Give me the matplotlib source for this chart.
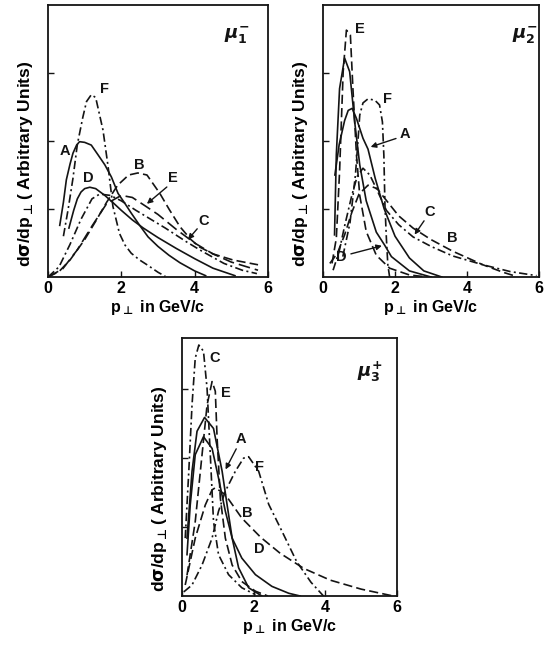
import matplotlib
matplotlib.use("Agg")
import matplotlib.pyplot as plt

plt.rcParams['font.family'] = ['Liberation Sans', 'DejaVu Sans']
plt.rcParams['font.weight'] = 'bold'
plt.rcParams['mathtext.fontset'] = 'dejavusans'
plt.rcParams['mathtext.default'] = 'rm'

INK = '#141414'

# ---- panel 1 : mu_1^- ----
p1_A_x = [0.32, 0.42, 0.5, 0.6, 0.68, 0.78, 0.86, 1.0, 1.18, 1.36, 1.55, 1.73, 1.91, 2.1, 2.27, 2.5, 2.73, 3.0, 3.3, 3.6, 4.0, 4.3]
p1_A_y = [0.76, 1.1, 1.43, 1.66, 1.82, 1.94, 1.99, 1.98, 1.94, 1.8, 1.65, 1.47, 1.23, 1.08, 0.94, 0.76, 0.59, 0.45, 0.32, 0.21, 0.09, 0.02]
p1_D_x = [0.57, 0.7, 0.8, 0.9, 1.0, 1.14, 1.3, 1.55, 1.8, 2.0, 2.3, 2.6, 3.0, 3.5, 4.0, 4.5, 5.1]
p1_D_y = [0.72, 0.98, 1.15, 1.25, 1.3, 1.32, 1.3, 1.2, 1.08, 0.98, 0.84, 0.72, 0.58, 0.42, 0.27, 0.13, 0.02]
p1_F_x = [0.42, 0.55, 0.68, 0.8, 0.95, 1.05, 1.18, 1.3, 1.4, 1.5, 1.64, 1.77, 1.95, 2.1, 2.27, 2.5, 2.73, 3.0, 3.2]
p1_F_y = [0.6, 1.0, 1.45, 1.95, 2.35, 2.58, 2.68, 2.64, 2.4, 2.16, 1.62, 1.04, 0.64, 0.47, 0.35, 0.25, 0.17, 0.07, 0.01]
p1_B_x = [0.0, 0.3, 0.6, 1.0, 1.3, 1.6, 1.9, 2.2, 2.45, 2.7, 3.05, 3.3, 3.6, 3.9, 4.14, 4.5, 5.05, 5.73]
p1_B_y = [0.0, 0.08, 0.25, 0.55, 0.82, 1.1, 1.35, 1.5, 1.53, 1.5, 1.23, 1.0, 0.74, 0.55, 0.44, 0.34, 0.25, 0.18]
p1_E_x = [0.0, 0.4, 0.8, 1.2, 1.6, 2.0, 2.3, 2.64, 3.0, 3.5, 4.0, 4.5, 5.0, 5.73]
p1_E_y = [0.0, 0.12, 0.4, 0.75, 1.08, 1.2, 1.17, 1.05, 0.92, 0.7, 0.5, 0.34, 0.22, 0.1]
p1_C_x = [0.0, 0.3, 0.6, 0.9, 1.2, 1.41, 1.7, 2.0, 2.4, 2.8, 3.2, 3.77, 4.2, 4.8, 5.3, 5.7]
p1_C_y = [0.0, 0.15, 0.48, 0.85, 1.15, 1.22, 1.2, 1.12, 0.98, 0.85, 0.72, 0.52, 0.38, 0.2, 0.1, 0.05]

# ---- panel 2 : mu_2^- ----
p2_E_x = [0.25, 0.37, 0.46, 0.56, 0.65, 0.76, 0.83, 0.93, 1.02, 1.2, 1.48, 1.85, 2.4, 2.9]
p2_E_y = [0.2, 0.57, 1.55, 3.02, 3.63, 3.56, 2.78, 1.79, 1.2, 0.67, 0.32, 0.13, 0.03, 0.0]
p2_D_x = [0.32, 0.37, 0.46, 0.6, 0.74, 0.88, 1.02, 1.2, 1.48, 1.71, 1.9, 2.4, 3.0]
p2_D_y = [0.62, 1.8, 2.77, 3.22, 3.02, 2.28, 1.65, 1.12, 0.66, 0.47, 0.3, 0.09, 0.0]
p2_A_x = [0.33, 0.45, 0.6, 0.7, 0.81, 0.93, 1.11, 1.25, 1.45, 1.7, 2.0, 2.4, 2.8, 3.3]
p2_A_y = [1.5, 1.95, 2.3, 2.45, 2.48, 2.33, 2.04, 1.88, 1.45, 1.0, 0.6, 0.28, 0.09, 0.0]
p2_F_x = [0.55, 0.75, 0.9, 0.97, 1.02, 1.11, 1.25, 1.44, 1.57, 1.65, 1.69, 1.72, 1.76, 1.8, 1.85]
p2_F_y = [0.3, 0.8, 1.5, 1.99, 2.38, 2.56, 2.62, 2.6, 2.53, 2.28, 1.79, 1.06, 0.57, 0.18, 0.0]
p2_C_x = [0.28, 0.45, 0.6, 0.8, 0.95, 1.11, 1.3, 1.5, 1.76, 2.1, 2.5, 3.0, 3.6, 4.44, 5.2, 5.93]
p2_C_y = [0.1, 0.38, 0.75, 1.2, 1.48, 1.6, 1.5, 1.28, 0.98, 0.77, 0.59, 0.45, 0.31, 0.18, 0.08, 0.02]
p2_B_x = [0.19, 0.4, 0.6, 0.8, 1.0, 1.25, 1.5, 1.8, 2.1, 2.5, 3.0, 3.6, 4.44, 5.0, 5.3]
p2_B_y = [0.2, 0.35, 0.62, 0.95, 1.22, 1.35, 1.3, 1.1, 0.9, 0.72, 0.55, 0.38, 0.18, 0.07, 0.02]

# ---- panel 3 : mu_3^+ ----
p3_C_x = [0.09, 0.19, 0.28, 0.37, 0.47, 0.6, 0.7, 0.79, 0.88, 1.02, 1.3, 1.67, 2.05]
p3_C_y = [0.84, 1.81, 2.77, 3.45, 3.64, 3.55, 3.01, 2.05, 1.08, 0.6, 0.31, 0.12, 0.02]
p3_E_x = [0.14, 0.37, 0.56, 0.7, 0.84, 0.93, 0.98, 1.07, 1.21, 1.4, 1.67, 2.05, 2.4]
p3_E_y = [0.3, 1.08, 2.05, 2.77, 3.11, 2.97, 2.29, 1.42, 0.84, 0.45, 0.21, 0.07, 0.0]
p3_A_x = [0.14, 0.28, 0.42, 0.63, 0.88, 1.12, 1.26, 1.4, 1.58, 1.86, 2.23]
p3_A_y = [0.84, 1.81, 2.39, 2.59, 2.43, 1.81, 1.32, 0.84, 0.41, 0.12, 0.0]
p3_D_x = [0.14, 0.23, 0.37, 0.6, 0.84, 1.02, 1.21, 1.4, 1.67, 2.05, 2.51, 2.98, 3.3]
p3_D_y = [0.6, 1.32, 2.05, 2.31, 2.14, 1.71, 1.23, 0.84, 0.55, 0.31, 0.14, 0.04, 0.0]
p3_B_x = [0.09, 0.37, 0.65, 0.84, 0.93, 1.21, 1.67, 2.2, 2.74, 3.4, 4.14, 5.0, 5.9]
p3_B_y = [0.16, 0.84, 1.32, 1.54, 1.57, 1.47, 1.13, 0.85, 0.62, 0.4, 0.23, 0.1, 0.0]
p3_F_x = [0.05, 0.28, 0.56, 0.84, 1.02, 1.21, 1.49, 1.72, 1.86, 2.14, 2.42, 2.79, 3.2, 3.6, 3.95]
p3_F_y = [0.06, 0.16, 0.45, 0.84, 1.23, 1.52, 1.81, 2.0, 2.02, 1.81, 1.33, 0.94, 0.5, 0.2, 0.0]

xticks = [0, 2, 4, 6]
yticks = [1, 2, 3]

SOLID = '-'
DASH = (0, (5.5, 2.5))
LDASH = (0, (7, 3))
DASHDOT = (0, (5, 2, 1.2, 2))

fig = plt.figure(figsize=(5.47, 6.48), dpi=100)


def make_axes(rect, ytop):
    ax = fig.add_axes(rect)
    ax.set_xlim(0, 6)
    ax.set_ylim(0, ytop)
    ax.set_xticks(xticks)
    ax.set_xticklabels([str(t) for t in xticks], fontsize=11.5, fontweight='bold')
    ax.set_yticks(yticks)
    ax.set_yticklabels([])
    ax.tick_params(direction='in', length=4, width=1.0, pad=3, color=INK)
    for s in ax.spines.values():
        s.set_linewidth(1.3)
        s.set_color(INK)
    ax.set_xlabel(r'p$_{\bot}$ in GeV/c', fontsize=11.5, fontweight='bold', labelpad=1)
    ax.set_ylabel(r'd$\sigma$/dp$_{\bot}$( Arbitrary Units)', fontsize=12.5, fontweight='bold')
    ax.yaxis.set_label_coords(-0.06, 0.415)
    return ax


def curve(ax, xs, ys, ls):
    ax.plot(xs, ys, color=INK, lw=1.2, linestyle=ls)


def tag(ax, s, x, y, tip=None, start=None):
    ax.text(x, y, s, fontsize=10.5, fontweight='bold', ha='center', va='center', color=INK)
    if tip is not None:
        ax.annotate('', xy=tip, xytext=start,
                    arrowprops=dict(arrowstyle='-|>', color=INK, lw=1.0, mutation_scale=8))


# panel 1
ax1 = make_axes([0.0878, 0.5725, 0.402, 0.4198], 4.0)
curve(ax1, p1_A_x, p1_A_y, SOLID)
curve(ax1, p1_D_x, p1_D_y, SOLID)
curve(ax1, p1_F_x, p1_F_y, DASHDOT)
curve(ax1, p1_B_x, p1_B_y, DASH)
curve(ax1, p1_E_x, p1_E_y, LDASH)
curve(ax1, p1_C_x, p1_C_y, DASHDOT)
tag(ax1, 'A', 0.45, 1.85)
tag(ax1, 'F', 1.55, 2.76)
tag(ax1, 'B', 2.5, 1.65)
tag(ax1, 'D', 1.09, 1.45)
tag(ax1, 'E', 3.42, 1.45, tip=(2.64, 1.05), start=(3.3, 1.35))
tag(ax1, 'C', 4.25, 0.82, tip=(3.77, 0.52), start=(4.12, 0.74))
ax1.text(5.15, 3.55, r'$\mathit{\mu}_{1}^{-}$', fontsize=13, ha='center', va='center', color=INK)

# panel 2
ax2 = make_axes([0.5905, 0.5725, 0.395, 0.4198], 4.0)
curve(ax2, p2_E_x, p2_E_y, DASH)
curve(ax2, p2_D_x, p2_D_y, SOLID)
curve(ax2, p2_A_x, p2_A_y, SOLID)
curve(ax2, p2_F_x, p2_F_y, DASHDOT)
curve(ax2, p2_C_x, p2_C_y, DASHDOT)
curve(ax2, p2_B_x, p2_B_y, DASH)
tag(ax2, 'E', 1.02, 3.65)
tag(ax2, 'F', 1.78, 2.62)
tag(ax2, 'A', 2.28, 2.1, tip=(1.25, 1.9), start=(2.1, 2.05))
tag(ax2, 'C', 2.97, 0.95, tip=(2.5, 0.59), start=(2.85, 0.86))
tag(ax2, 'B', 3.6, 0.57)
tag(ax2, 'D', 0.51, 0.3, tip=(1.71, 0.47), start=(0.7, 0.33))
ax2.text(5.6, 3.55, r'$\mathit{\mu}_{2}^{-}$', fontsize=13, ha='center', va='center', color=INK)

# panel 3
ax3 = make_axes([0.3327, 0.0802, 0.393, 0.398], 3.74)
curve(ax3, p3_C_x, p3_C_y, DASHDOT)
curve(ax3, p3_E_x, p3_E_y, DASH)
curve(ax3, p3_A_x, p3_A_y, SOLID)
curve(ax3, p3_D_x, p3_D_y, SOLID)
curve(ax3, p3_B_x, p3_B_y, DASH)
curve(ax3, p3_F_x, p3_F_y, DASHDOT)
tag(ax3, 'C', 0.9, 3.45)
tag(ax3, 'E', 1.22, 2.95)
tag(ax3, 'A', 1.65, 2.27, tip=(1.18, 1.8), start=(1.55, 2.17))
tag(ax3, 'F', 2.15, 1.87)
tag(ax3, 'B', 1.82, 1.2)
tag(ax3, 'D', 2.15, 0.68)
ax3.text(5.25, 3.25, r'$\mathit{\mu}_{3}^{+}$', fontsize=13, ha='center', va='center', color=INK)

plt.savefig('out.png', dpi=100)
